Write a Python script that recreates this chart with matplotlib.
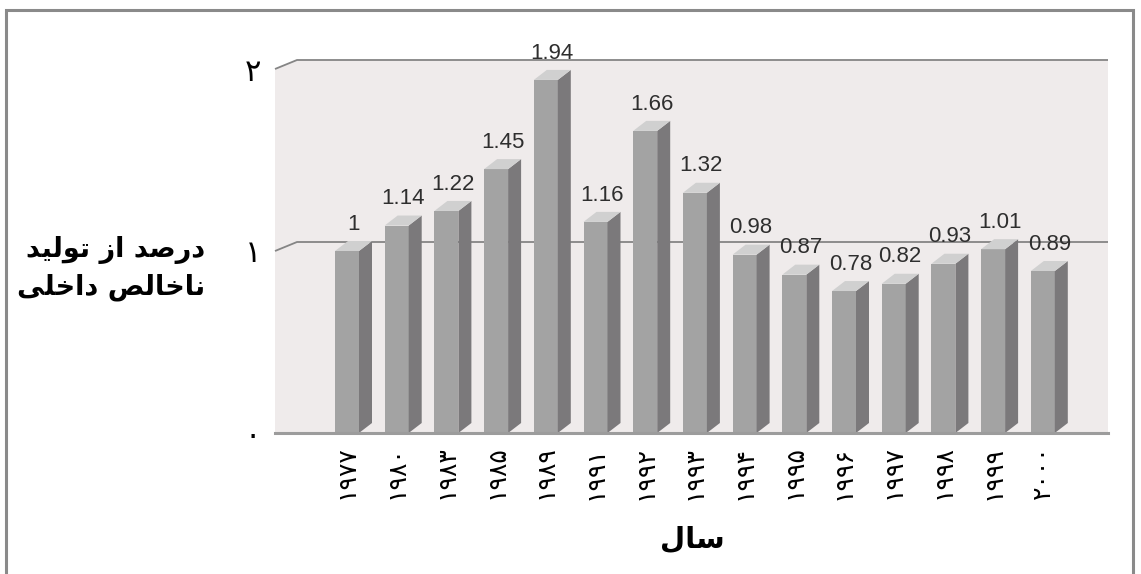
import numpy as np
import matplotlib.pyplot as plt
from matplotlib.patches import Polygon, Rectangle

# data: share of GDP by year
years = [1977, 1980, 1983, 1985, 1989, 1991, 1992, 1993, 1994, 1995, 1996, 1997, 1998, 1999, 2000]
values = [1, 1.14, 1.22, 1.45, 1.94, 1.16, 1.66, 1.32, 0.98, 0.87, 0.78, 0.82, 0.93, 1.01, 0.89]
yticks = [0, 1, 2]

fa_digits = str.maketrans('0123456789', '۰۱۲۳۴۵۶۷۸۹')
def fa(n):
    return str(n).translate(fa_digits)

# arabic letters pre-shaped (presentation forms, visual order)
ylab1 = '\uFEAA\uFEF4\uFEDF\uFEEE\uFE97 \uFEAF\uFE8D \uFEAA\uFEBB\uFEAD\uFEA9'
ylab2 = '\uFEF0\uFEE0\uFEA7\uFE8D\uFEA9 \uFEBA\uFEDF\uFE8E\uFEA7\uFE8E\uFEE7'
xlab = '\uFEDD\uFE8E\uFEB3'

W, H = 1141, 574
fig = plt.figure(figsize=(W/100, H/100), dpi=100)

# geometry in pixels
px_unit = 182.0          # pixels per value unit
px_step = 49.7           # pixels between bars
left_px, right_px, floor_px = 275, 1108, 433
first_c = 347
wall_dx, wall_dy = 22/px_step, 9/px_unit
bar_dx, bar_dy = 13/px_step, 10/px_unit
bw = 24/px_step

ytop = 2 + wall_dy
top_px = floor_px - ytop*px_unit
ax = fig.add_axes([left_px/W, (H-floor_px)/H, (right_px-left_px)/W, (floor_px-top_px)/H])
x0 = -(first_c - left_px)/px_step
x1 = x0 + (right_px - left_px)/px_step
ax.set_xlim(x0, x1)
ax.set_ylim(0, ytop)
ax.set_facecolor('white')
for s in ax.spines.values():
    s.set_visible(False)

# back wall
wall = Polygon([(x0, 0), (x0, 2), (x0+wall_dx, 2+wall_dy), (x1, 2+wall_dy), (x1, 0)],
               closed=True, facecolor='#efebeb', edgecolor='none', zorder=0)
ax.add_patch(wall)
for v in yticks[1:]:
    ax.plot([x0, x0+wall_dx, x1], [v, v+wall_dy, v+wall_dy], color='#858585', lw=1.3,
            zorder=1, clip_on=False, solid_capstyle='butt')
ax.plot([x0, x1], [0, 0], color='#9c9c9c', lw=2.2, zorder=5, clip_on=False)

# bars
x = np.arange(len(values))
ax.bar(x, values, width=bw, color='#a3a3a3', edgecolor='none', zorder=3)
for xi, v in zip(x, values):
    r = xi + bw/2
    side = Polygon([(r, 0), (r+bar_dx, bar_dy), (r+bar_dx, v+bar_dy), (r, v)],
                   closed=True, facecolor='#7b797b', edgecolor='none', zorder=3)
    top = Polygon([(xi-bw/2, v), (xi-bw/2+bar_dx, v+bar_dy), (r+bar_dx, v+bar_dy), (r, v)],
                  closed=True, facecolor='#d0d0d0', edgecolor='none', zorder=3)
    ax.add_patch(side)
    ax.add_patch(top)
    ax.text(xi + bar_dx/2, v + bar_dy + 0.035, f'{v:g}', ha='center', va='bottom',
            fontsize=16, color='#2e2e2e', family='Liberation Sans')

ax.set_xticks(x)
ax.set_xticklabels([fa(y) for y in years], rotation=90, fontsize=18, family='DejaVu Sans')
ax.set_yticks(yticks)
ax.set_yticklabels([fa(v) for v in yticks], fontsize=22, family='DejaVu Sans')
ax.tick_params(axis='both', length=0)
ax.tick_params(axis='x', pad=9)
ax.tick_params(axis='y', pad=10)

fig.text(205/W, 1-250/H, ylab1, ha='right', va='center', fontsize=19.5,
         fontweight='bold', family='DejaVu Sans')
fig.text(205/W, 1-287/H, ylab2, ha='right', va='center', fontsize=19.5,
         fontweight='bold', family='DejaVu Sans')
fig.text(692/W, 1-540/H, xlab, ha='center', va='center', fontsize=21,
         fontweight='bold', family='DejaVu Sans')

# outer frame
fig.patches.append(Rectangle((6/W, -0.1), (1133-6)/W, 1.1-10/H, transform=fig.transFigure,
                             fill=False, edgecolor='#8a8a8a', lw=2.2))

fig.savefig('out.png', dpi=100)
